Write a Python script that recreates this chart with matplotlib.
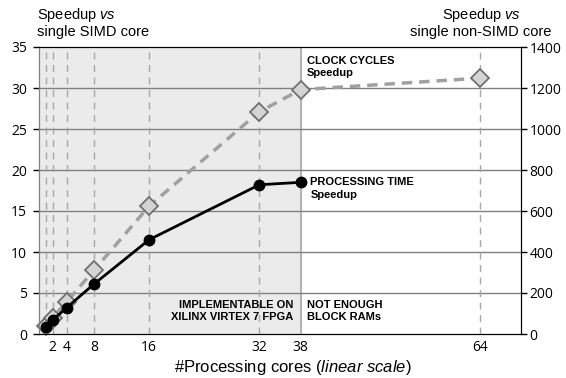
import matplotlib.pyplot as plt
import numpy as np

# Data
cores = [1, 2, 4, 8, 16, 32, 38]
proc_time = [0.9, 1.7, 3.2, 6.1, 11.5, 18.2, 18.5]
cores_cc = [1, 2, 4, 8, 16, 32, 38, 64]
clock_cycles = [1.0, 2.0, 3.9, 7.8, 15.6, 27.1, 29.8, 31.2]
xticks = [2, 4, 8, 16, 32, 38, 64]
vlines = [1, 2, 4, 8, 16, 32, 64]

plt.rcParams['font.family'] = ['Liberation Sans', 'DejaVu Sans']
plt.rcParams['mathtext.fontset'] = 'custom'
plt.rcParams['mathtext.rm'] = 'Liberation Sans'
plt.rcParams['mathtext.it'] = 'Liberation Sans:italic'

W, H = 566, 378
fig = plt.figure(figsize=(W / 100, H / 100), dpi=100)
ax = fig.add_axes([39/W, 1 - 334/H, 482/W, 287/H])
ax2 = ax.twinx()

ax.set_xlim(0, 70)
ax.set_ylim(0, 35)
ax2.set_ylim(0, 1400)

# shaded implementable region
ax.axvspan(0, 38, color="#ebebeb", zorder=0)
ax.axvline(38, color="#a8a8a8", lw=1.2, zorder=1)
for y in range(5, 35, 5):
    ax.axhline(y, color="#808080", lw=1, zorder=1)
for xv in vlines:
    ax.axvline(xv, color="#a8a8a8", lw=1, ls=(0, (5, 4)), zorder=1)

ax.plot(cores_cc, clock_cycles, color="#a0a0a0", lw=2.5, ls=(0, (3, 2)),
        marker="D", ms=9, mfc="#d4d4d4", mec="#707070", mew=1.3, zorder=3,
        clip_on=False)
ax.plot(cores, proc_time, color="black", lw=2, marker="o", ms=7.5, zorder=4,
        clip_on=False)

ax.spines["left"].set_color("#808080")
ax2.spines["left"].set_color("#808080")

ax.set_xticks(xticks)
ax.set_yticks(range(0, 40, 5))
ax2.set_yticks(range(0, 1600, 200))
ax.tick_params(axis="y", labelsize=10, length=4.5, width=1, pad=4)
ax2.tick_params(axis="y", labelsize=10, length=4, width=1, pad=2)
ax.tick_params(axis="x", labelsize=10, length=0, pad=4)
for a in (ax, ax2):
    for lab in a.get_xticklabels() + a.get_yticklabels():
        lab.set_family('Open Sans')

bold = dict(fontsize=8, fontweight="bold", linespacing=1.3)
ax.text(38.9, 33.9, "CLOCK CYCLES\nSpeedup", va="top", **bold)
ax.text(39.4, 19.1, "PROCESSING TIME\nSpeedup", va="top", **bold)
ax.text(36.9, 4.2, "IMPLEMENTABLE ON\nXILINX VIRTEX 7 FPGA", ha="right", va="top", **bold)
ax.text(38.9, 4.2, "NOT ENOUGH\nBLOCK RAMs", va="top", **bold)

fs = 10.5
fig.text(37/W, 1 - 19/H, "Speedup $vs$", fontsize=fs, va="baseline")
fig.text(37/W, 1 - 36/H, "single SIMD core", fontsize=fs, va="baseline")
fig.text(481/W, 1 - 19/H, "Speedup $vs$", fontsize=fs, ha="center", va="baseline")
fig.text(481/W, 1 - 36/H, "single non-SIMD core", fontsize=fs, ha="center", va="baseline")
fig.text(293/W, 1 - 372/H, "#Processing cores $(linear\\ scale)$", fontsize=12,
         ha="center", va="baseline")

fig.savefig("out.png", dpi=100)
